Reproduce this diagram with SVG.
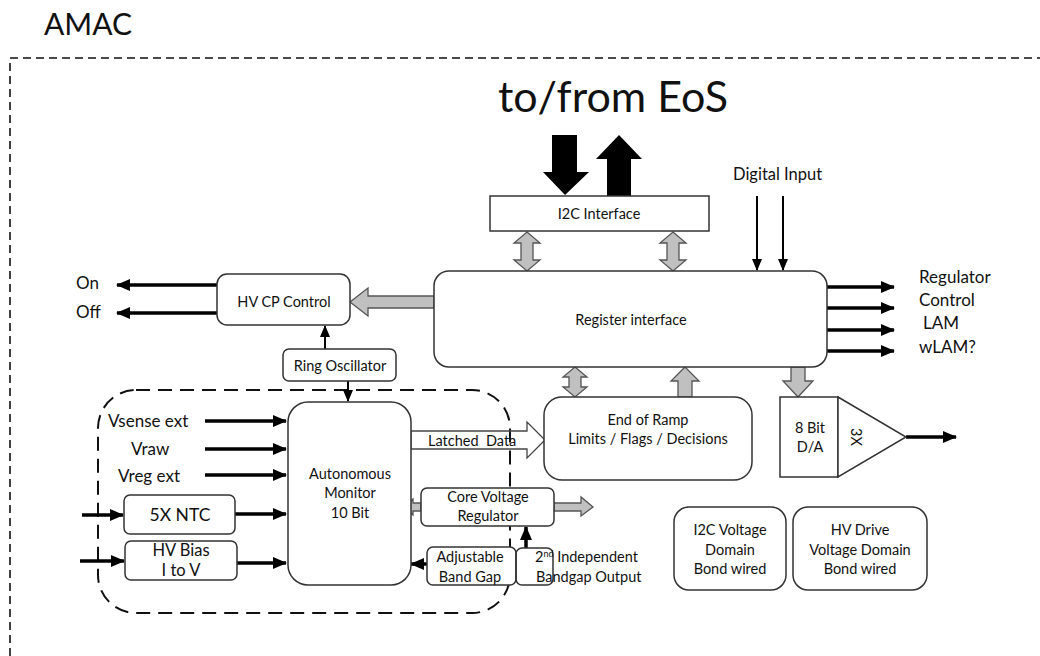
<svg xmlns="http://www.w3.org/2000/svg" width="1040" height="656" viewBox="0 0 1040 656">
  <style>
    text { font-family: Lato, "Open Sans", "Liberation Sans", sans-serif; fill: #111; }
    .box { fill: #ffffff; stroke: #333; stroke-width: 1.5; }
    .t14 { font-size: 14.5px; text-anchor: middle; }
    .t16 { font-size: 17px; }
    .wire { stroke: #000; stroke-width: 3.5; fill: none; marker-end: url(#ah); }
    .thin { stroke: #000; stroke-width: 2; fill: none; marker-end: url(#ahs); }
    .gray { fill: #c0c0c0; stroke: #555; stroke-width: 1.3; }
    .hollow { fill: none; stroke: #444; stroke-width: 1.3; }
    .solid { fill: #000; }
  </style>
  <defs>
    <marker id="ah" markerUnits="userSpaceOnUse" markerWidth="14" markerHeight="12" refX="13" refY="6" orient="auto">
      <path d="M0,0 L14,6 L0,12 z" fill="#000"/>
    </marker>
    <marker id="ahs" markerUnits="userSpaceOnUse" markerWidth="12" markerHeight="10" refX="11" refY="5" orient="auto">
      <path d="M0,0 L12,5 L0,10 z" fill="#000"/>
    </marker>
  </defs>

  <rect width="1040" height="656" fill="#ffffff"/>

  <!-- chip outline and title -->
  <text x="44" y="35" style="font-size:30px">AMAC</text>
  <path d="M10,656 V58 H1040" fill="none" stroke="#111" stroke-width="1.6" stroke-dasharray="8 5"/>

  <!-- monitor domain outline -->
  <rect x="98" y="390" width="412" height="223" rx="38" fill="none" stroke="#111" stroke-width="2" stroke-dasharray="14 8"/>

  <text x="613" y="112" style="font-size:43px;text-anchor:middle">to/from EoS</text>

  <g id="connectors">
    <!-- EoS bus -->
    <polygon class="solid" points="552,135 577,135 577,172 589,172 565,195 543,172 552,172"/>
    <polygon class="solid" points="619,135 642,159 631,159 631,196 607,196 607,159 596,159"/>
    <!-- I2C to register -->
    <polygon class="gray" points="527,232 540,243 533,243 533,260 540,260 527,271 514,260 521,260 521,243 514,243"/>
    <polygon class="gray" points="673,232 686,243 679,243 679,260 686,260 673,271 660,260 667,260 667,243 660,243"/>
    <!-- digital input -->
    <line class="thin" x1="757" y1="196" x2="757" y2="270"/>
    <line class="thin" x1="783" y1="196" x2="783" y2="270"/>
    <!-- register outputs -->
    <line class="wire" x1="827" y1="287" x2="894" y2="287"/>
    <line class="wire" x1="827" y1="308" x2="894" y2="308"/>
    <line class="wire" x1="827" y1="330" x2="894" y2="330"/>
    <line class="wire" x1="827" y1="351" x2="894" y2="351"/>
    <!-- register to HV CP -->
    <polygon class="gray" points="350,302 368,288 368,296 434,296 434,308 368,308 368,316"/>
    <!-- On / Off -->
    <line class="wire" x1="217" y1="285" x2="117" y2="285"/>
    <line class="wire" x1="217" y1="313" x2="117" y2="313"/>
    <!-- ring oscillator -->
    <line class="thin" x1="325" y1="349" x2="325" y2="326"/>
    <line class="thin" x1="348" y1="381" x2="348" y2="401"/>
    <!-- register to ramp logic and DAC -->
    <polygon class="gray" points="575,367 587,377 581,377 581,387 587,387 575,397 563,387 569,387 569,377 563,377"/>
    <polygon class="gray" points="685,367 699,381 692,381 692,397 678,397 678,381 671,381"/>
    <polygon class="gray" points="791,367 805,367 805,381 813,381 798,397 783,381 791,381"/>
    <!-- monitor inputs -->
    <line class="wire" x1="205" y1="421" x2="286" y2="421"/>
    <line class="wire" x1="205" y1="449" x2="286" y2="449"/>
    <line class="wire" x1="205" y1="475" x2="286" y2="475"/>
    <line class="wire" x1="82" y1="515" x2="123" y2="515"/>
    <line class="wire" x1="235" y1="514" x2="286" y2="514"/>
    <line class="wire" x1="80" y1="561" x2="124" y2="561"/>
    <line class="wire" x1="237" y1="563" x2="286" y2="563"/>
    <!-- latched data -->
    <polygon class="hollow" points="411,431 527,431 527,422 545,440 527,458 527,449 411,449"/>
    <!-- core regulator supply -->
    <polygon class="gray" points="404,507 413,499 413,503 421,503 421,511 413,511 413,515"/>
    <polygon class="gray" points="554,503 581,503 581,497 593,507 581,516 581,511 554,511"/>
    <!-- band gap links -->
    <line class="wire" x1="427" y1="564" x2="411" y2="564"/>
    <line class="wire" x1="526" y1="548" x2="526" y2="527"/>
    <!-- DAC output -->
    <line class="wire" x1="906" y1="437" x2="956" y2="437"/>
  </g>

  <g id="i2c-interface">
    <rect class="box" x="490" y="196" width="219" height="35"/>
    <text class="t14" x="599" y="219">I2C Interface</text>
  </g>

  <g id="digital-input">
    <text x="733" y="180" style="font-size:16.5px">Digital Input</text>
  </g>

  <g id="register-interface">
    <rect class="box" x="434" y="271" width="393" height="96" rx="15"/>
    <text class="t14" x="631" y="325">Register interface</text>
  </g>

  <g id="register-outputs">
    <text class="t16" x="919" y="283">Regulator</text>
    <text class="t16" x="919" y="306">Control</text>
    <text class="t16" x="923" y="329">LAM</text>
    <text class="t16" x="919" y="353">wLAM?</text>
  </g>

  <g id="hv-cp-control">
    <rect class="box" x="217" y="274" width="133" height="51" rx="10"/>
    <text class="t14" x="284" y="307">HV CP Control</text>
    <text class="t16" x="76" y="289">On</text>
    <text class="t16" x="76" y="318">Off</text>
  </g>

  <g id="ring-oscillator">
    <rect class="box" x="283" y="349" width="113" height="32" rx="6"/>
    <text class="t14" x="340" y="371">Ring Oscillator</text>
  </g>

  <g id="monitor-inputs">
    <text class="t16" x="108" y="427">Vsense ext</text>
    <text class="t16" x="131" y="455">Vraw</text>
    <text class="t16" x="118" y="482">Vreg ext</text>
  </g>

  <g id="ntc">
    <rect class="box" x="124" y="495" width="111" height="39" rx="6"/>
    <text x="180" y="521" style="font-size:17.5px;text-anchor:middle">5X NTC</text>
  </g>

  <g id="hv-bias">
    <rect class="box" x="125" y="541" width="112" height="39" rx="6"/>
    <text x="181" y="556" style="font-size:16.5px;text-anchor:middle">HV Bias</text>
    <text x="181" y="576" style="font-size:16.5px;text-anchor:middle">I to V</text>
  </g>

  <g id="autonomous-monitor">
    <rect class="box" x="288" y="402" width="123" height="183" rx="20"/>
    <text class="t14" x="350" y="479">Autonomous</text>
    <text class="t14" x="350" y="498">Monitor</text>
    <text class="t14" x="350" y="518">10 Bit</text>
  </g>

  <g id="latched-data">
    <text x="428" y="446" style="font-size:14.5px" xml:space="preserve">Latched  Data</text>
  </g>

  <g id="end-of-ramp">
    <rect class="box" x="544" y="397" width="208" height="83" rx="18"/>
    <text class="t14" x="648" y="425">End of Ramp</text>
    <text class="t14" x="648" y="444">Limits / Flags / Decisions</text>
  </g>

  <g id="dac">
    <rect class="box" x="780" y="397" width="58" height="80"/>
    <text class="t14" x="810" y="433">8 Bit</text>
    <text class="t14" x="810" y="452">D/A</text>
  </g>

  <g id="amplifier">
    <polygon class="box" points="838,397 906,437 838,477"/>
    <text class="t14" x="0" y="0" transform="translate(851,437) rotate(90)">3X</text>
  </g>

  <g id="core-voltage-regulator">
    <rect class="box" x="421" y="488" width="133" height="38" rx="6"/>
    <text class="t14" x="488" y="502">Core Voltage</text>
    <text class="t14" x="488" y="521">Regulator</text>
  </g>

  <g id="adjustable-band-gap">
    <rect class="box" x="427" y="547" width="89" height="38" rx="6"/>
    <text class="t14" x="470" y="562">Adjustable</text>
    <text class="t14" x="470" y="582">Band Gap</text>
  </g>

  <g id="independent-bandgap">
    <rect x="516" y="548" width="37" height="37" rx="6" fill="none" stroke="#333" stroke-width="1.5"/>
    <text x="535" y="562" style="font-size:14.5px">2<tspan dy="-5" style="font-size:9px">nd</tspan><tspan dy="5"> Independent</tspan></text>
    <text x="536" y="582" style="font-size:14.5px">Bandgap Output</text>
  </g>

  <g id="i2c-voltage-domain">
    <rect class="box" x="674" y="507" width="112" height="83" rx="15"/>
    <text class="t14" x="730" y="535">I2C Voltage</text>
    <text class="t14" x="730" y="555">Domain</text>
    <text class="t14" x="730" y="574">Bond wired</text>
  </g>

  <g id="hv-drive-domain">
    <rect class="box" x="793" y="507" width="134" height="83" rx="15"/>
    <text class="t14" x="860" y="535">HV Drive</text>
    <text class="t14" x="860" y="555">Voltage Domain</text>
    <text class="t14" x="860" y="574">Bond wired</text>
  </g>
</svg>
